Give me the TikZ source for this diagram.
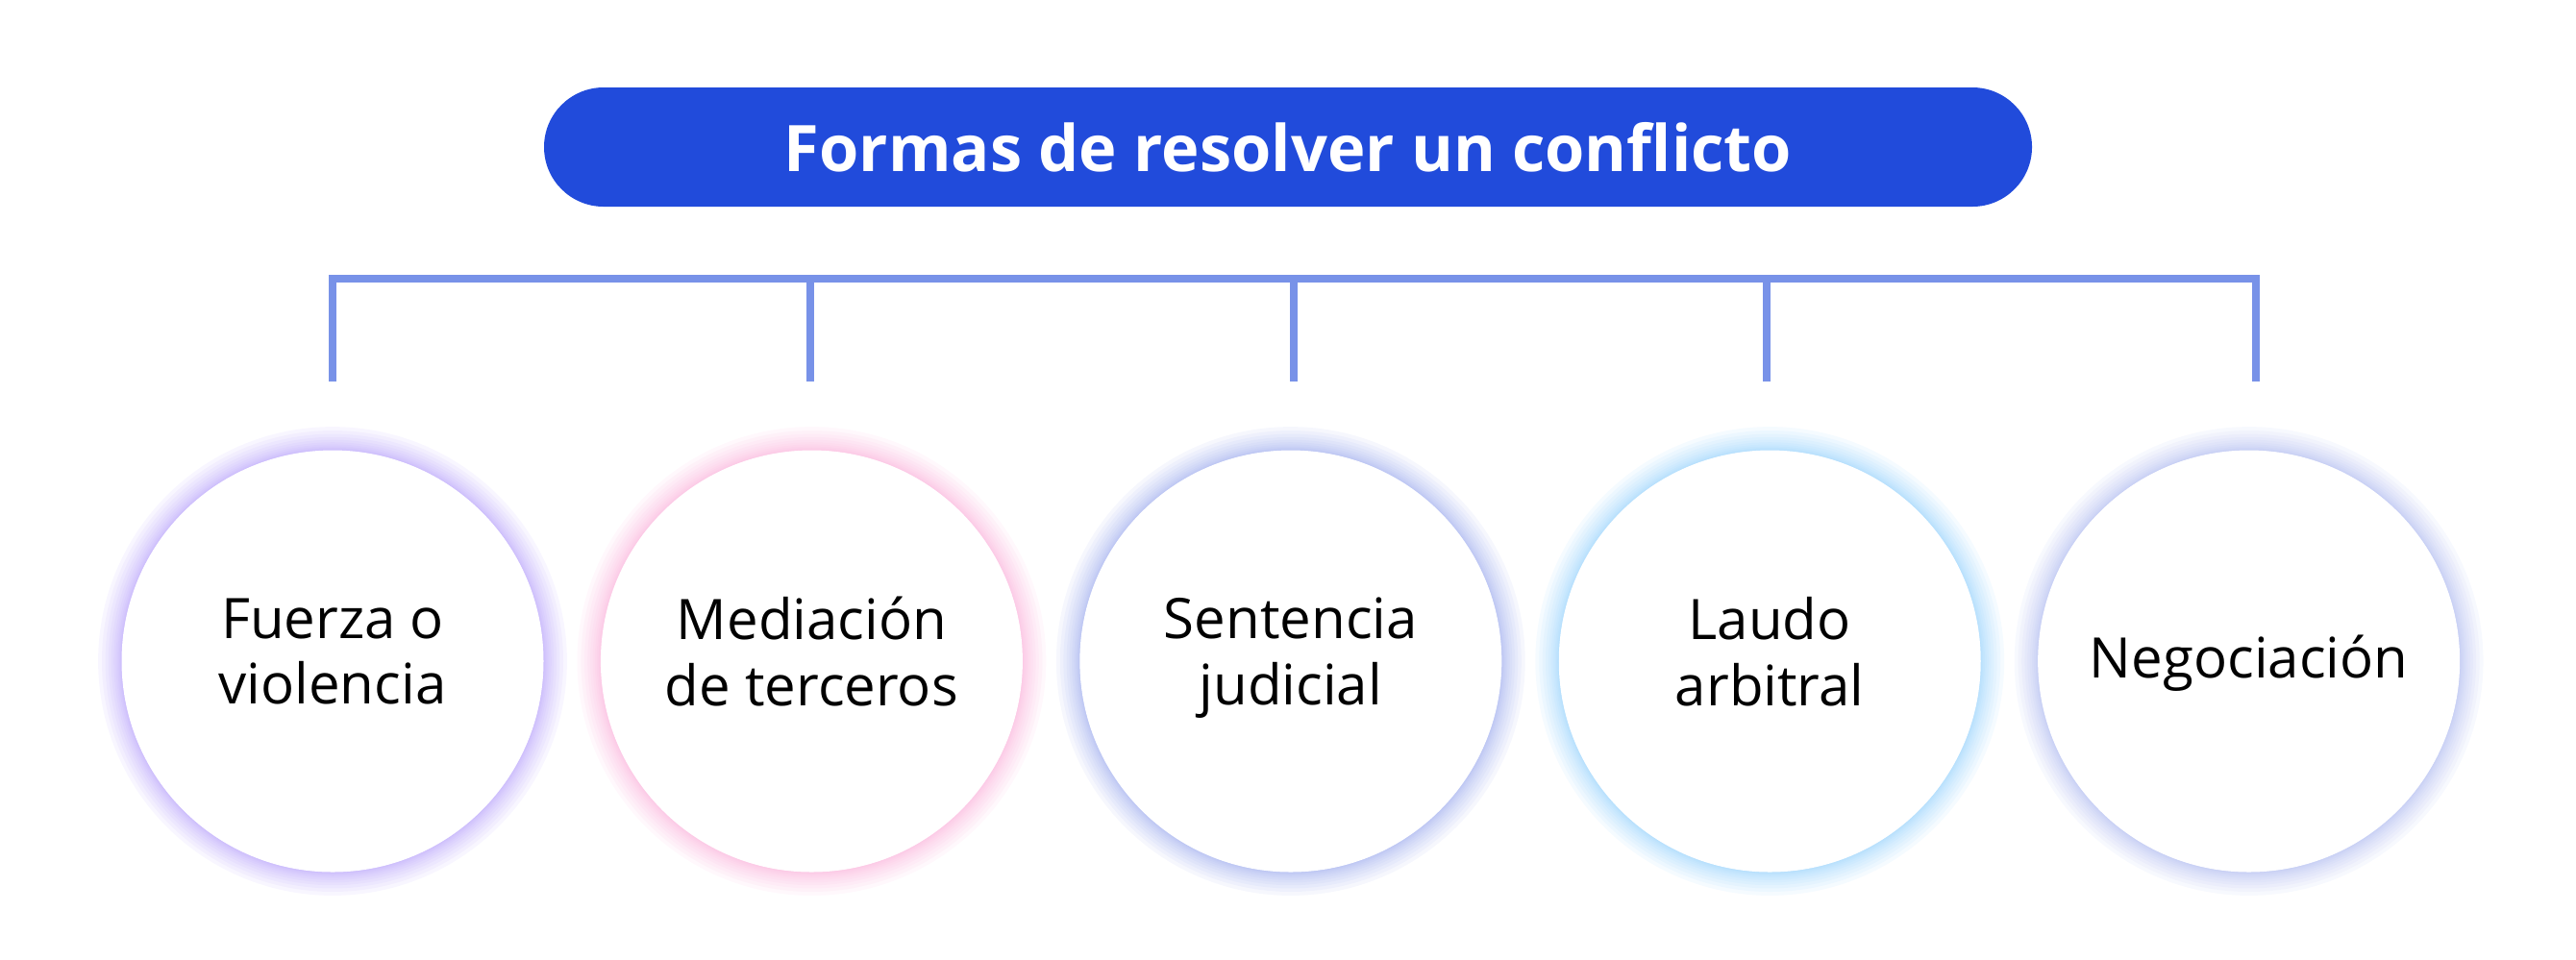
\documentclass[tikz,border=0pt]{standalone}
\usepackage{fontspec}
\setmainfont{Open Sans}
\usetikzlibrary{positioning, backgrounds}

\definecolor{titleblue}{RGB}{33,75,219}
\definecolor{linkblue}{RGB}{120,146,232}
\definecolor{glowA}{RGB}{176,152,250}
\definecolor{glowB}{RGB}{250,170,215}
\definecolor{glowC}{RGB}{150,165,236}
\definecolor{glowD}{RGB}{140,205,252}
\definecolor{glowE}{RGB}{168,180,238}

\begin{document}
\begin{tikzpicture}[
        titlebar/.style={rectangle, fill=titleblue, text=white, minimum width=15.48cm, minimum height=1.24cm, rounded corners=0.62cm, font=\fontsize{19}{23}\selectfont\bfseries},
        circ/.style={circle, fill=white, minimum size=4.39cm, inner sep=0pt, align=center, font=\fontsize{16.55}{19.5}\selectfont,
            execute at begin node={\rule{0pt}{16pt}}, execute at end node=\strut},
        link/.style={draw=linkblue, line width=0.08cm}]

    \useasboundingbox (0,0) rectangle (26.8,-9.98);

    \node (title) [titlebar] at (13.4,-1.53) {Formas de resolver un conflicto};

    \node (c1) [circ] at (3.46,-6.88) {Fuerza o\\violencia};
    \node (c2) [circ, right=0.58cm of c1] {Mediación\\de terceros};
    \node (c3) [circ, right=0.58cm of c2] {Sentencia\\judicial};
    \node (c4) [circ, right=0.58cm of c3] {Laudo\\arbitral};
    \node (c5) [circ, right=0.58cm of c4] {Negociación};

    % soft glow behind each circle
    \begin{pgfonlayer}{background}
        \foreach \n/\col in {c1/glowA, c2/glowB, c3/glowC, c4/glowD, c5/glowE}
            \foreach \k in {1,...,12}
                \fill[\col, opacity=0.085] (\n.center) circle [radius=2.195+0.0017*\k*\k];
    \end{pgfonlayer}

    % bracket
    \foreach \x [count=\i] in {3.46,8.43,13.46,18.38,23.47} {
        \coordinate (t\i) at (\x,-2.90);
        \coordinate (d\i) at (\x,-3.97);
    }
    \draw[link] (d1) -- (t1) -- (t5) -- (d5);
    \foreach \i in {2,3,4}
        \draw[link] (t\i) -- (d\i);
\end{tikzpicture}
\end{document}
